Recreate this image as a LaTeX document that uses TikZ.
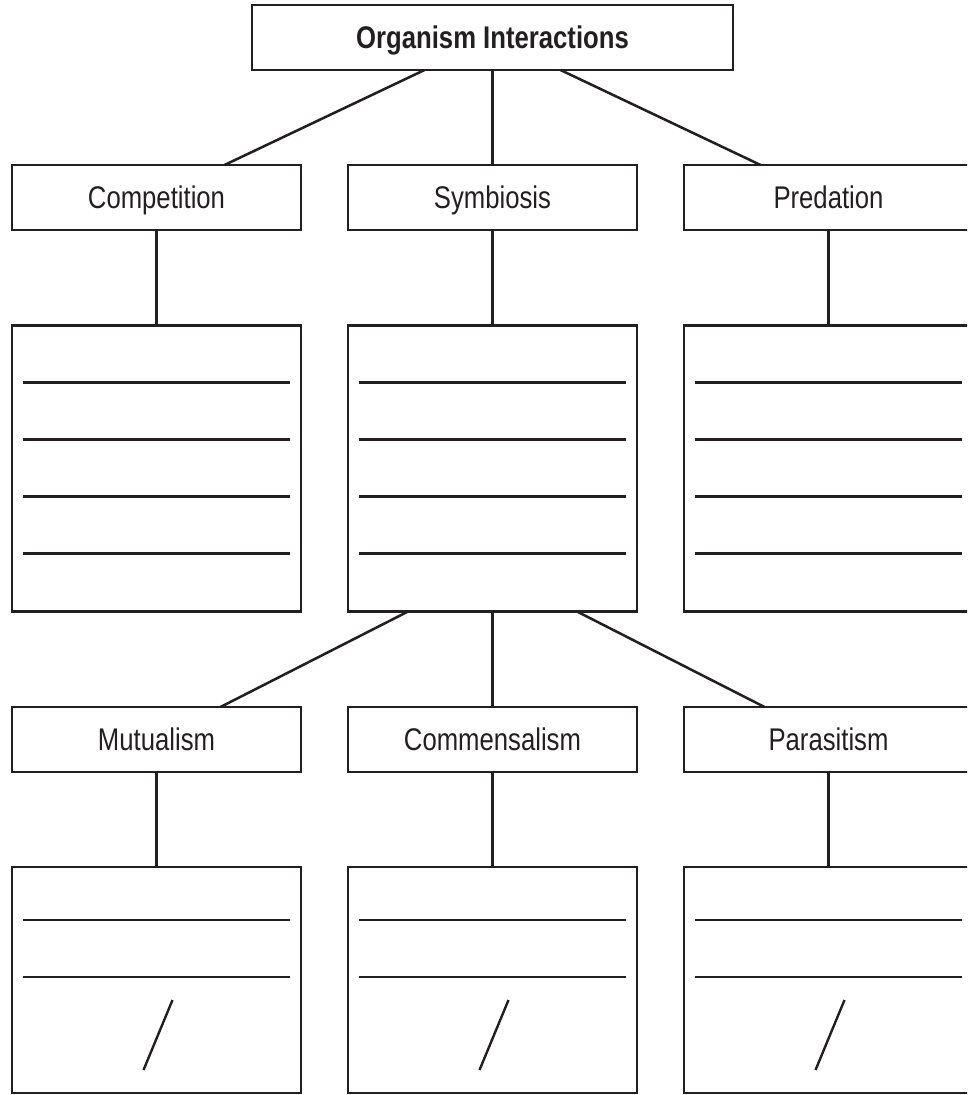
\documentclass[tikz,border=0pt]{standalone}
\usepackage{fontspec}
\setmainfont[FakeStretch=0.82]{Liberation Sans}
\usetikzlibrary{calc}
\definecolor{ink}{RGB}{35,31,32}

\tikzset{
	box/.style={rectangle, draw=ink, line width=2.2pt, outer sep=0pt, inner sep=0pt,
		minimum width=216.75pt, minimum height=48.75pt,
		text height=16.5pt, text depth=0pt, text=ink,
		font=\fontsize{23.5pt}{27pt}\selectfont},
	link/.style={draw=ink, line width=1.9pt},
	rule/.style={draw=ink, line width=1.8pt},
}

\begin{document}
\begin{tikzpicture}[x=0.75pt,y=0.75pt,yscale=-1,xscale=1]
			\useasboundingbox (0,0) rectangle (967,1095);
			\clip (0,0) rectangle (967,1095);
			
			% Text Node
			\draw (492.5,37.5) node [box, minimum width=360.75pt] (organism) {\textbf{Organism Interactions}};
			% Text Node
			\draw (156.5,197.5) node [box] (competition) {Competition};
			% Text Node
			\draw (492.5,197.5) node [box] (symbiosis) {Symbiosis};
			% Text Node
			\draw (828.5,197.5) node [box] (predation) {Predation};
			%Shape: Rectangle
			\draw (156.5,468.5) node [box, minimum height=214.5pt] (competitionbox) {};
			%Shape: Rectangle
			\draw (492.5,468.5) node [box, minimum height=214.5pt] (symbiosisbox) {};
			%Shape: Rectangle
			\draw (828.5,468.5) node [box, minimum height=214.5pt] (predationbox) {};
			% Text Node
			\draw (156.5,739.5) node [box] (mutualism) {Mutualism};
			% Text Node
			\draw (492.5,739.5) node [box] (commensalism) {Commensalism};
			% Text Node
			\draw (828.5,739.5) node [box] (parasitism) {Parasitism};
			%Shape: Rectangle
			\draw (156.5,980) node [box, minimum height=169.5pt] (mutualismbox) {};
			%Shape: Rectangle
			\draw (492.5,980) node [box, minimum height=169.5pt] (commensalismbox) {};
			%Shape: Rectangle
			\draw (828.5,980) node [box, minimum height=169.5pt] (parasitismbox) {};
			
			%Straight Lines
			\draw [link] ($(organism.south)+(-68,0)$) -- ($(competition.north)+(68,0)$);
			\draw [link] (organism) -- (symbiosis);
			\draw [link] ($(organism.south)+(68,0)$) -- ($(predation.north)+(-68,0)$);
			\draw [link] (competition) -- (competitionbox);
			\draw [link] (symbiosis) -- (symbiosisbox);
			\draw [link] (predation) -- (predationbox);
			\draw [link] ($(symbiosisbox.south)+(-84.5,0)$) -- ($(mutualism.north)+(64,0)$);
			\draw [link] (symbiosisbox) -- (commensalism);
			\draw [link] ($(symbiosisbox.south)+(84.5,0)$) -- ($(parasitism.north)+(-64,0)$);
			\draw [link] (mutualism) -- (mutualismbox);
			\draw [link] (commensalism) -- (commensalismbox);
			\draw [link] (parasitism) -- (parasitismbox);
			
			%Writing lines
			\foreach \n in {competitionbox,symbiosisbox,predationbox}
				\foreach \dy in {57,114,171,228}
					\draw [rule] ($(\n.north)+(-133.5,\dy)$) -- ++(267,0);
			\foreach \n in {mutualismbox,commensalismbox,parasitismbox} {
				\foreach \dy in {53,110}
					\draw [rule] ($(\n.north)+(-133.5,\dy)$) -- ++(267,0);
				\draw [rule] ($(\n.north)+(16,133)$) -- ($(\n.north)+(-13,203)$);
			}
			
\end{tikzpicture}
\end{document}
